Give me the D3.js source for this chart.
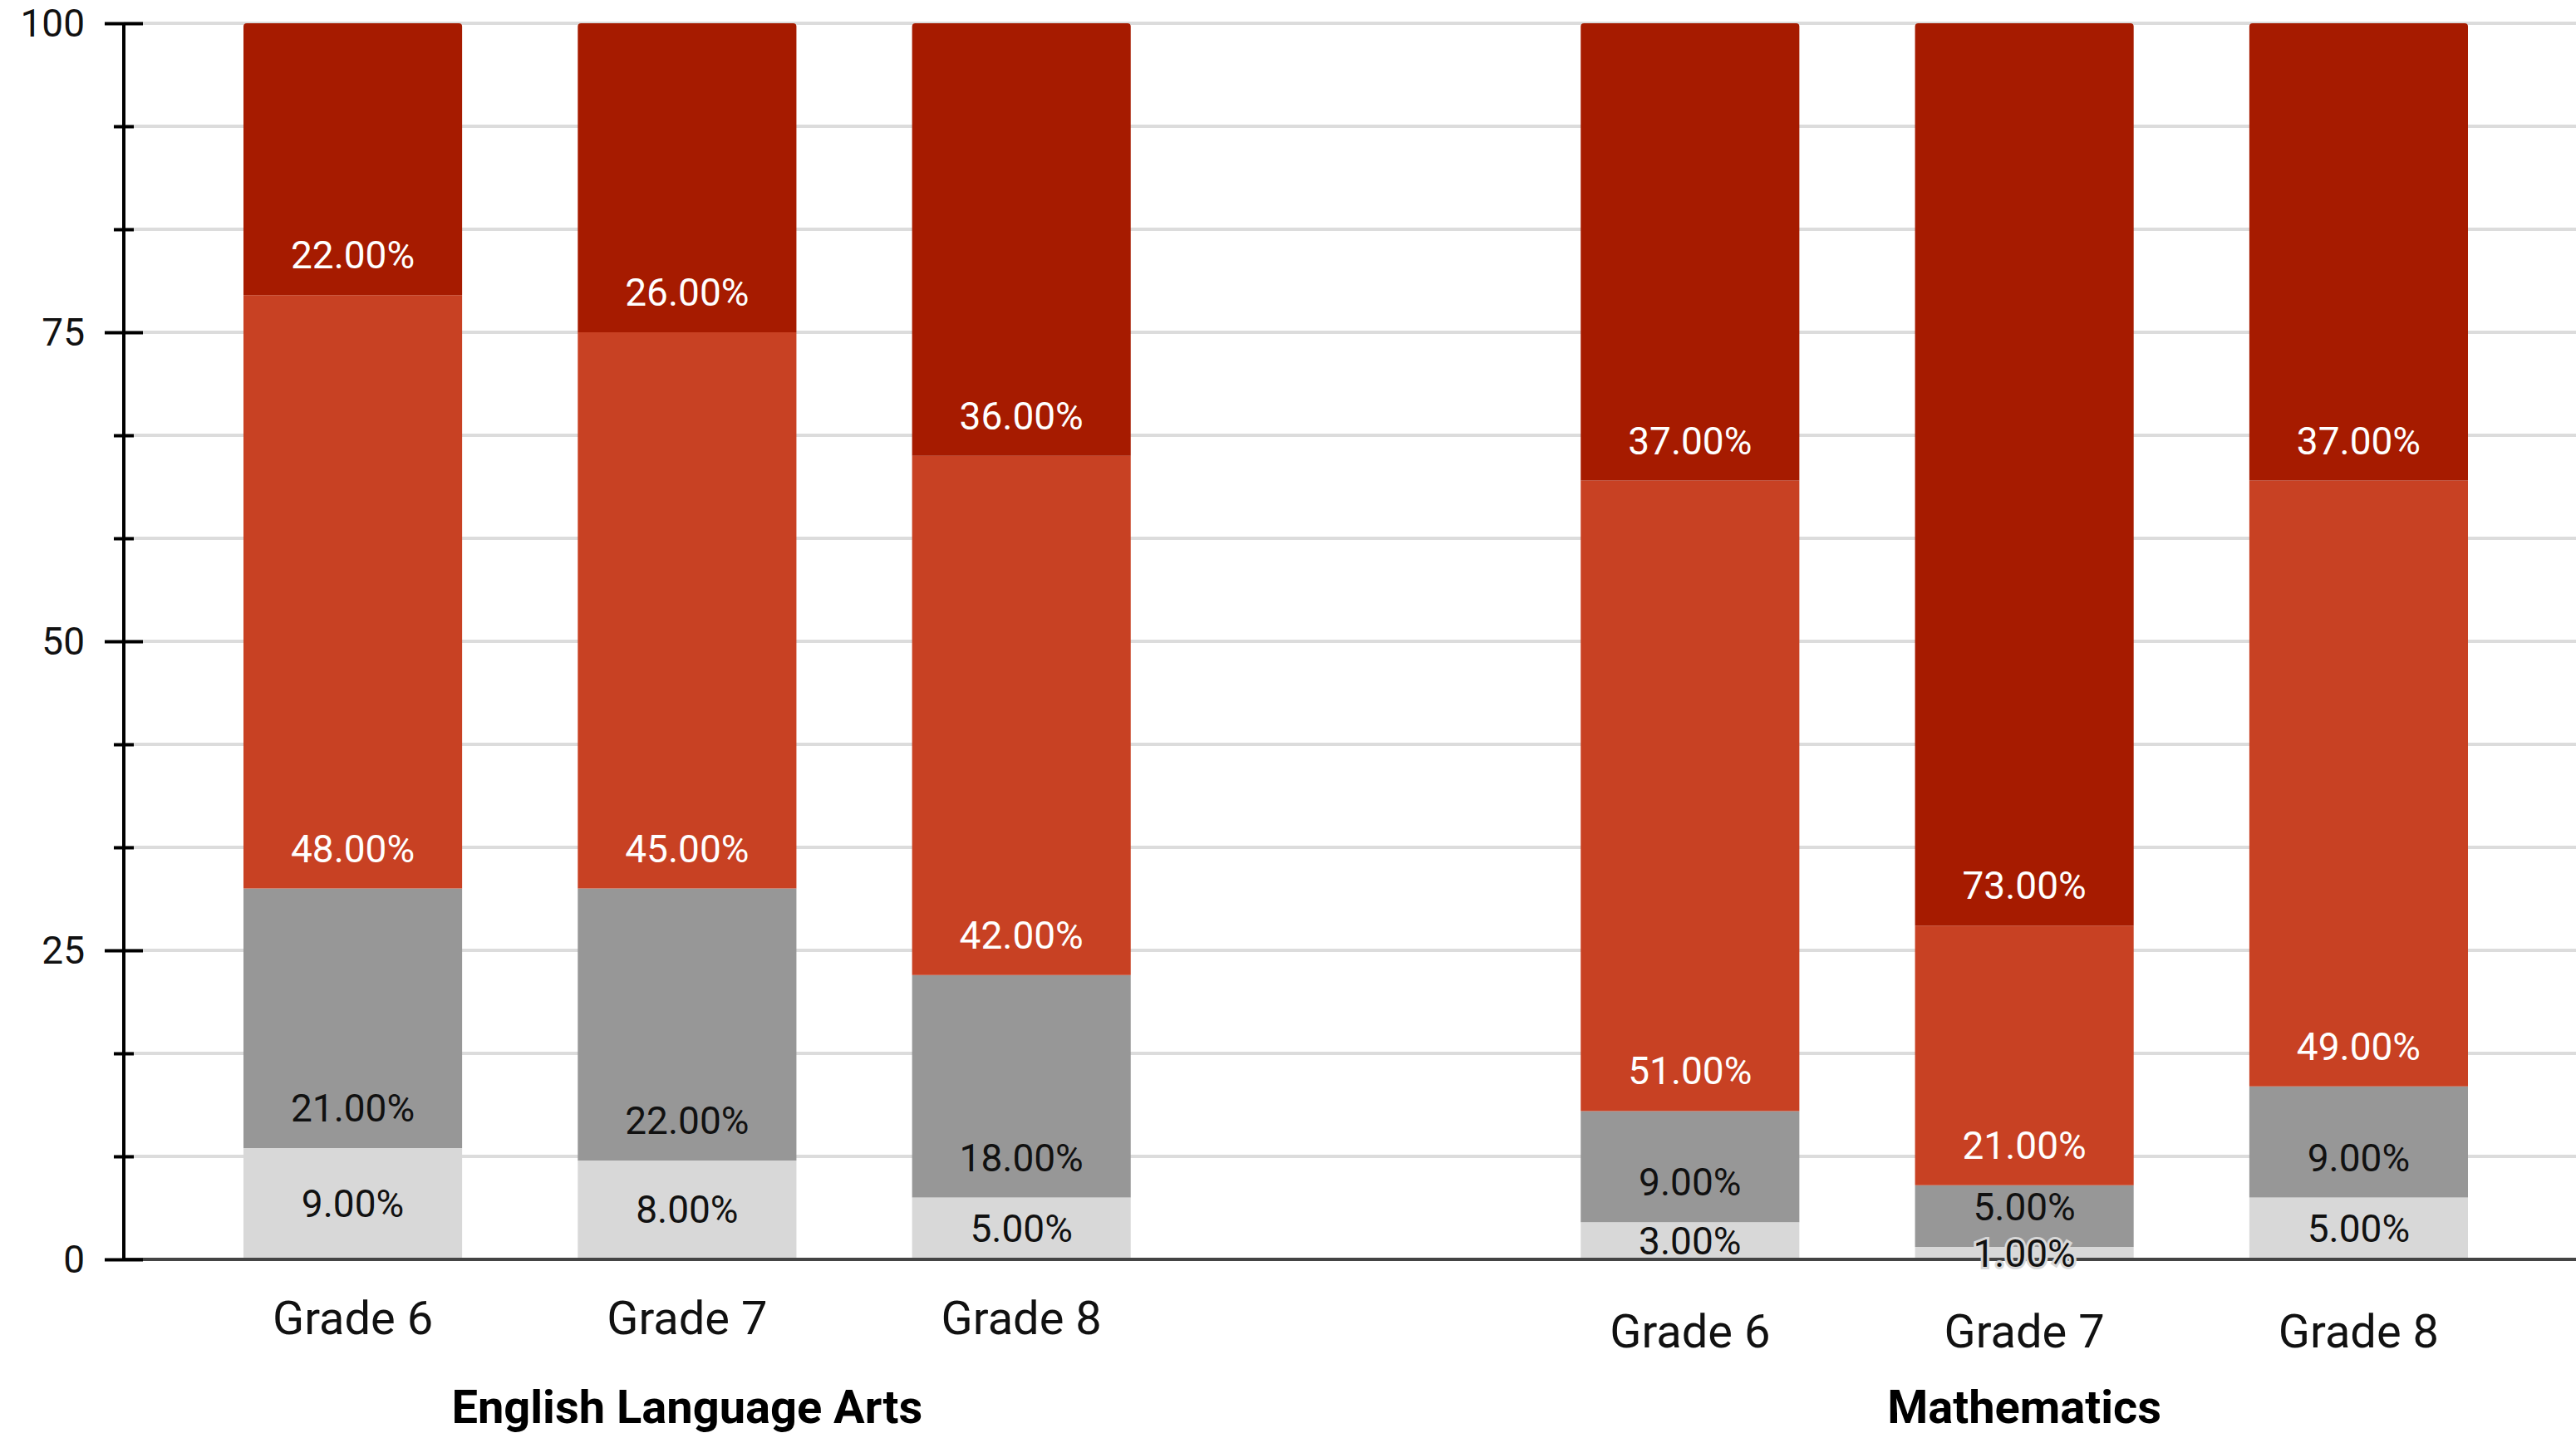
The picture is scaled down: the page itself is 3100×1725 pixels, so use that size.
<!DOCTYPE html>
<html>
<head>
<meta charset="utf-8">
<script src="https://cdn.jsdelivr.net/npm/d3@7/dist/d3.min.js"></script>
<style>
    body { margin: 0; background: #fff; }
    svg { display: block; font-family: Roboto, "Noto Sans", sans-serif; }
</style>
</head>
<body>
<div class="svgBox"></div>
<script>
// 数据
var subjects = ["English Language Arts", "Mathematics"];
var grades = ["Grade 6", "Grade 7", "Grade 8"];
var levels = ["Level 1", "Level 2", "Level 3", "Level 4"];
var colors = ["#d8d8d8", "#979797", "#c84123", "#a61b00"];
var textColors = ["#111", "#111", "#fff", "#fff"];

// 每个年级从下到上的百分比
var elaValues = [
    [9, 21, 48, 22],
    [8, 22, 45, 26],
    [5, 18, 42, 36]
];
var mathValues = [
    [3, 9, 51, 37],
    [1, 5, 21, 73],
    [5, 9, 49, 37]
];
var yTicks = [0, 25, 50, 75, 100];

    // 画布尺寸
    var W = 3100, H = 1725;
    var axisX = 149, plotTop = 28, plotBottom = 1516;

    // 拼出 7 个位置，中间空一格
    var rows = [];
    var slots = [];
    [elaValues, mathValues].forEach(function(vals, si) {
        grades.forEach(function(gr, gi) {
            var row = { key: si + "|" + gr, subject: subjects[si], grade: gr };
            levels.forEach(function(lv, li) { row[lv] = vals[gi][li]; });
            rows.push(row);
            slots.push(row.key);
        });
        if (si == 0) slots.push("gap");
    });

    var svg = d3.select(".svgBox")
        .append("svg")
        .attr("width", W)
        .attr("height", H);

    var x = d3.scaleBand()
        .domain(slots)
        .range([293, 2970])
        .paddingInner(0.346)
        .paddingOuter(0);

    var y = d3.scaleLinear()
        .domain([0, 100])
        .range([plotBottom, plotTop])
        .clamp(true);

    // 网格线 每 1/12
    var gridVals = d3.range(0, 13).map(function(i) { return i * 100 / 12; });
    svg.append("g").selectAll("line")
        .data(gridVals.filter(function(v) { return v > 0; }))
        .enter().append("line")
        .attr("x1", axisX)
        .attr("x2", W)
        .attr("y1", function(d) { return y(d); })
        .attr("y2", function(d) { return y(d); })
        .attr("stroke", "#dcdcdc")
        .attr("stroke-width", 4);

    // 堆叠
    var stack = d3.stack().keys(levels);
    var series = stack(rows);

    function roundTop(x0, y0, w, h, r) {
        return "M" + x0 + "," + (y0 + h) +
            "V" + (y0 + r) +
            "Q" + x0 + "," + y0 + " " + (x0 + r) + "," + y0 +
            "H" + (x0 + w - r) +
            "Q" + (x0 + w) + "," + y0 + " " + (x0 + w) + "," + (y0 + r) +
            "V" + (y0 + h) + "Z";
    }

    var layer = svg.append("g").selectAll("g.layer")
        .data(series)
        .enter().append("g")
        .attr("class", "layer")
        .attr("fill", function(d, i) { return colors[i]; });

    layer.selectAll("path")
        .data(function(d) { return d.map(function(p) { p.idx = d.index; return p; }); })
        .enter().append("path")
        .attr("d", function(d) {
            var x0 = x(d.data.key), w = x.bandwidth();
            var y0 = y(d[1]), h = y(d[0]) - y(d[1]);
            var r = d.idx == levels.length - 1 ? 4 : 0;
            return roundTop(x0, y0, w, h, r);
        });

    // 坐标轴 底线
    svg.append("line")
        .attr("x1", axisX)
        .attr("x2", W)
        .attr("y1", plotBottom)
        .attr("y2", plotBottom)
        .attr("stroke", "#444")
        .attr("stroke-width", 4);

    var isMajor = function(d) { return yTicks.indexOf(Math.round(d * 1e6) / 1e6) >= 0; };
    var yAxis = svg.append("g")
        .attr("transform", "translate(" + axisX + ",0)")
        .call(d3.axisLeft(y).tickValues(gridVals).tickSize(0).tickFormat(""));
    yAxis.select(".domain")
        .attr("stroke", "#000")
        .attr("stroke-width", 4)
        .attr("d", "M0," + plotTop + "V" + plotBottom);
    yAxis.selectAll(".tick line")
        .attr("stroke", "#000")
        .attr("stroke-width", 4)
        .attr("x1", function(d) { return isMajor(d) ? 23 : 12; })
        .attr("x2", function(d) { return isMajor(d) ? -23 : -12; });

    svg.append("g").selectAll("text")
        .data(yTicks)
        .enter().append("text")
        .attr("x", axisX - 47)
        .attr("y", function(d) { return y(d) + 16; })
        .attr("text-anchor", "end")
        .attr("font-size", 46)
        .attr("fill", "#111")
        .text(function(d) { return d; });

    // 段内百分比文字
    var fmt = d3.format(".2f");
    var labels = svg.append("g");
    series.forEach(function(s, i) {
        labels.selectAll("text.l" + i)
            .data(s)
            .enter().append("text")
            .attr("class", "l" + i)
            .attr("x", function(d) { return x(d.data.key) + x.bandwidth() / 2; })
            .attr("y", function(d) {
                if (i == 0) return (y(d[0]) + y(d[1])) / 2 + 16;
                return y(d[0]) - 32;
            })
            .attr("text-anchor", "middle")
            .attr("font-size", 46)
            .attr("fill", textColors[i])
            .attr("stroke", colors[i])
            .attr("stroke-width", 6)
            .attr("paint-order", "stroke")
            .text(function(d) { return fmt(d.data[s.key]) + "%"; });
    });

    // 年级标签
    svg.append("g").selectAll("text")
        .data(rows)
        .enter().append("text")
        .attr("x", function(d) { return x(d.key) + x.bandwidth() / 2; })
        .attr("y", function(d) { return d.subject == subjects[0] ? 1606 : 1622; })
        .attr("text-anchor", "middle")
        .attr("font-size", 56)
        .attr("fill", "#111")
        .text(function(d) { return d.grade; });

    // 学科标题
    svg.append("g").selectAll("text")
        .data(subjects)
        .enter().append("text")
        .attr("x", function(d, i) { return x(i + "|" + grades[1]) + x.bandwidth() / 2; })
        .attr("y", 1713)
        .attr("text-anchor", "middle")
        .attr("font-size", 56)
        .attr("font-weight", "bold")
        .attr("fill", "#000")
        .text(function(d) { return d; });
</script>
</body>
</html>
